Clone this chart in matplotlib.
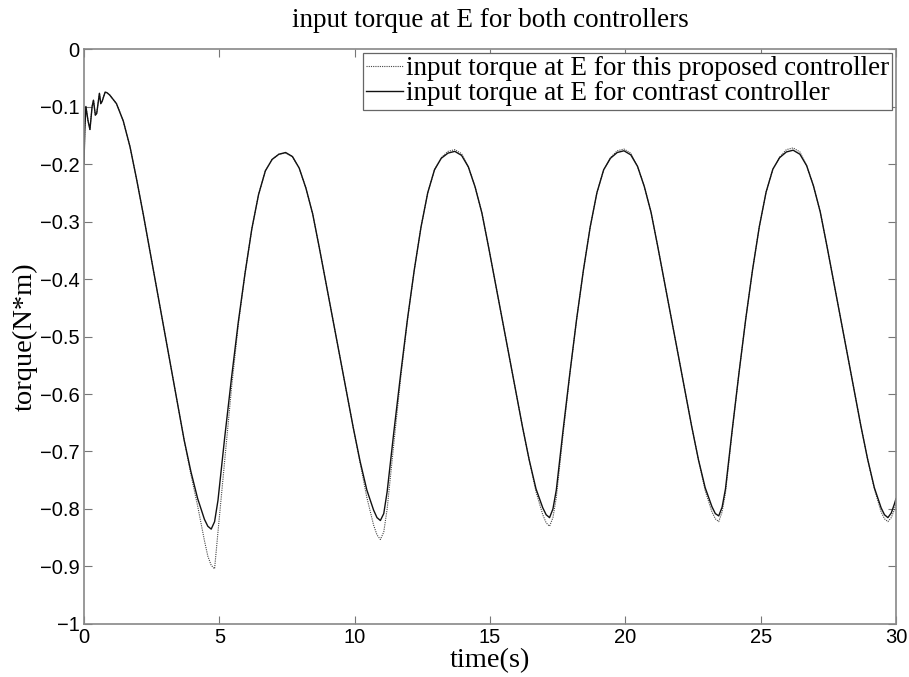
import numpy as np
import matplotlib
matplotlib.use("Agg")
import matplotlib.pyplot as plt
from matplotlib.ticker import FuncFormatter

# sampling times: fine steps over the start-up chatter, then every 0.25 s
t_start = [0.0, 0.03, 0.07, 0.15, 0.22, 0.30, 0.35, 0.42, 0.47, 0.57, 0.62, 0.67, 0.78, 0.85]
t_main = list(np.arange(0.95, 29.96, 0.25)) + [30.0]

start_vals = [-0.20, -0.14, -0.10, -0.125, -0.14, -0.10, -0.089, -0.115, -0.112,
              -0.077, -0.095, -0.091, -0.075, -0.076]

# torque of the contrast controller (N*m)
contrast_main = [
    -0.080, -0.095, -0.125, -0.170, -0.228, -0.290, -0.355, -0.420, -0.485, -0.550,
    -0.615, -0.680, -0.735, -0.782, -0.818, -0.835,
    -0.785, -0.675, -0.572, -0.475, -0.390, -0.313, -0.253, -0.212, -0.192, -0.183, -0.180,
    -0.187, -0.207, -0.242, -0.287, -0.347, -0.409, -0.472, -0.534, -0.597, -0.659,
    -0.717, -0.767, -0.802, -0.820,
    -0.770, -0.665, -0.565, -0.470, -0.385, -0.310, -0.250, -0.210, -0.190, -0.181, -0.178,
    -0.185, -0.205, -0.240, -0.285, -0.345, -0.407, -0.470, -0.532, -0.595, -0.657,
    -0.715, -0.765, -0.798, -0.815,
    -0.767, -0.663, -0.564, -0.470, -0.385, -0.310, -0.250, -0.210, -0.190, -0.180, -0.177,
    -0.184, -0.204, -0.239, -0.284, -0.344, -0.406, -0.469, -0.531, -0.594, -0.656,
    -0.714, -0.763, -0.796, -0.812,
    -0.765, -0.662, -0.563, -0.469, -0.384, -0.309, -0.249, -0.209, -0.189, -0.179, -0.176,
    -0.183, -0.203, -0.238, -0.283, -0.343, -0.405, -0.468, -0.530, -0.593, -0.655,
    -0.713, -0.763, -0.798, -0.815,
    -0.790, -0.782,
]

# torque of the proposed controller (N*m)
proposed_main = [
    -0.080, -0.095, -0.125, -0.170, -0.228, -0.290, -0.355, -0.420, -0.485, -0.550,
    -0.615, -0.680, -0.740, -0.795, -0.855, -0.898,
    -0.840, -0.715, -0.590, -0.480, -0.390, -0.313, -0.253, -0.212, -0.192, -0.183, -0.181,
    -0.187, -0.207, -0.242, -0.287, -0.347, -0.409, -0.472, -0.534, -0.597, -0.659,
    -0.720, -0.780, -0.828, -0.853,
    -0.800, -0.685, -0.572, -0.472, -0.385, -0.310, -0.250, -0.210, -0.189, -0.178, -0.175,
    -0.182, -0.205, -0.240, -0.285, -0.345, -0.407, -0.470, -0.532, -0.595, -0.657,
    -0.715, -0.770, -0.810, -0.830,
    -0.780, -0.670, -0.566, -0.470, -0.385, -0.310, -0.250, -0.210, -0.189, -0.177, -0.174,
    -0.181, -0.204, -0.239, -0.284, -0.344, -0.406, -0.469, -0.531, -0.594, -0.656,
    -0.714, -0.768, -0.805, -0.822,
    -0.772, -0.664, -0.563, -0.469, -0.384, -0.309, -0.249, -0.209, -0.188, -0.175, -0.172,
    -0.179, -0.203, -0.238, -0.283, -0.343, -0.405, -0.468, -0.530, -0.593, -0.655,
    -0.713, -0.765, -0.805, -0.822,
    -0.800, -0.790,
]

# extra samples around each trough
t_trough = [4.575, 4.825, 10.825, 11.075, 17.075, 17.325, 23.325, 23.575, 29.575, 29.825]
contrast_trough = [-0.830, -0.822, -0.815, -0.808, -0.810, -0.800, -0.808, -0.797, -0.810, -0.807]
proposed_trough = [-0.882, -0.904, -0.845, -0.840, -0.824, -0.815, -0.817, -0.805, -0.817, -0.815]

x_ticks = [0, 5, 10, 15, 20, 25, 30]
y_ticks = [0, -0.1, -0.2, -0.3, -0.4, -0.5, -0.6, -0.7, -0.8, -0.9, -1]

t = np.array(t_start + t_main + t_trough)
contrast = np.array(start_vals + contrast_main + contrast_trough)
proposed = np.array(start_vals + proposed_main + proposed_trough)
order = np.argsort(t, kind="stable")
t, contrast, proposed = t[order], contrast[order], proposed[order]

serif = "Liberation Serif"
sans = "Liberation Sans"

fig = plt.figure(figsize=(9.09, 6.77), dpi=100)
ax = fig.add_axes([0.0924, 0.0783, 0.8933, 0.8493])

ax.plot(t, proposed, color="#444444", lw=0.8, linestyle=(0, (1, 1)),
        label="input torque at E for this proposed controller")
ax.plot(t, contrast, color="#111111", lw=1.0,
        label="input torque at E for contrast controller")

ax.set_xlim(0, 30)
ax.set_ylim(-1, 0)
ax.set_xticks(x_ticks)
ax.set_yticks(y_ticks)
fmt = FuncFormatter(lambda v, p: ("%g" % v).replace("-", "\u2212"))
ax.xaxis.set_major_formatter(fmt)
ax.yaxis.set_major_formatter(fmt)
ax.tick_params(direction="in", length=6, width=0.8, color="#777777",
               top=True, right=True, labelsize=14.5, pad=3)
for lab in ax.get_xticklabels() + ax.get_yticklabels():
    lab.set_fontfamily(sans)
for s in ax.spines.values():
    s.set_color("#888888")
    s.set_linewidth(1.2)

ax.set_title("input torque at E for both controllers", fontfamily=serif,
             fontsize=19.5, pad=16)
ax.set_xlabel("time(s)", fontfamily=serif, fontsize=20.5, labelpad=1)
ax.set_ylabel("torque(N*m)", fontfamily=serif, fontsize=20.5, labelpad=2)

leg = ax.legend(loc="upper right", prop={"family": serif, "size": 19.5},
                handlelength=1.35, handletextpad=0.1, borderpad=0.12,
                labelspacing=0.0, fancybox=False, framealpha=1,
                borderaxespad=0.15)
leg.get_frame().set_edgecolor("#666666")
leg.get_frame().set_linewidth(0.9)

fig.savefig("out.png", dpi=100)
